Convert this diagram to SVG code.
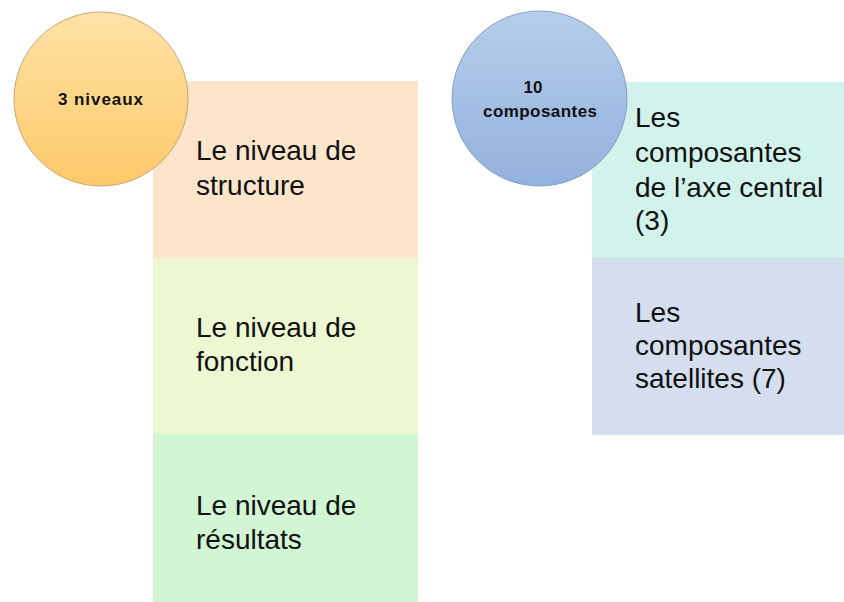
<svg xmlns="http://www.w3.org/2000/svg" width="844" height="602" viewBox="0 0 844 602">
  <defs>
    <linearGradient id="gOrange" x1="0" y1="0" x2="0" y2="1">
      <stop offset="0" stop-color="#FFE2A6"/>
      <stop offset="1" stop-color="#FDC96A"/>
    </linearGradient>
    <linearGradient id="gBlue" x1="0" y1="0" x2="0" y2="1">
      <stop offset="0" stop-color="#B6CEEB"/>
      <stop offset="1" stop-color="#92B1DD"/>
    </linearGradient>
  </defs>
  <style>
    .box text { font-family: "Liberation Sans", Arial, sans-serif; font-size: 28px; fill: #111; }
    .circ text { font-family: "Liberation Sans", Arial, sans-serif; font-size: 17px; font-weight: bold; fill: #111; text-anchor: middle; }
  </style>
  <rect width="844" height="602" fill="#FFFFFF"/>

  <g id="box-structure" class="box">
    <rect x="153" y="81" width="265" height="177" fill="#FDE5CB"/>
    <text x="196" y="160">Le niveau de</text>
    <text x="196" y="195">structure</text>
  </g>
  <g id="box-fonction" class="box">
    <rect x="153" y="258" width="265" height="176" fill="#EDF7D2"/>
    <text x="196" y="337">Le niveau de</text>
    <text x="196" y="371">fonction</text>
  </g>
  <g id="box-resultats" class="box">
    <rect x="153" y="434" width="265" height="168" fill="#D2F5D3"/>
    <text x="196" y="515">Le niveau de</text>
    <text x="196" y="549">résultats</text>
  </g>

  <g id="box-axe" class="box">
    <rect x="592" y="82" width="252" height="176" fill="#D2F3EB"/>
    <text x="635" y="127">Les</text>
    <text x="635" y="162">composantes</text>
    <text x="635" y="197">de l’axe central</text>
    <text x="635" y="230">(3)</text>
  </g>
  <g id="box-satellites" class="box">
    <rect x="592" y="258" width="252" height="177" fill="#D4DEEF"/>
    <text x="635" y="322">Les</text>
    <text x="635" y="355">composantes</text>
    <text x="635" y="388">satellites (7)</text>
  </g>

  <g id="circle-niveaux" class="circ">
    <circle cx="101" cy="99" r="87" fill="url(#gOrange)" stroke="#B9975E" stroke-width="0.8"/>
    <text x="100.5" y="105" textLength="85" lengthAdjust="spacing">3 niveaux</text>
  </g>
  <g id="circle-composantes" class="circ">
    <circle cx="539.5" cy="98.5" r="87.5" fill="url(#gBlue)" stroke="#7390B8" stroke-width="0.8"/>
    <text x="533" y="92.5">10</text>
    <text x="540" y="117" textLength="114" lengthAdjust="spacing">composantes</text>
  </g>

  <g id="connectors"></g>
</svg>
